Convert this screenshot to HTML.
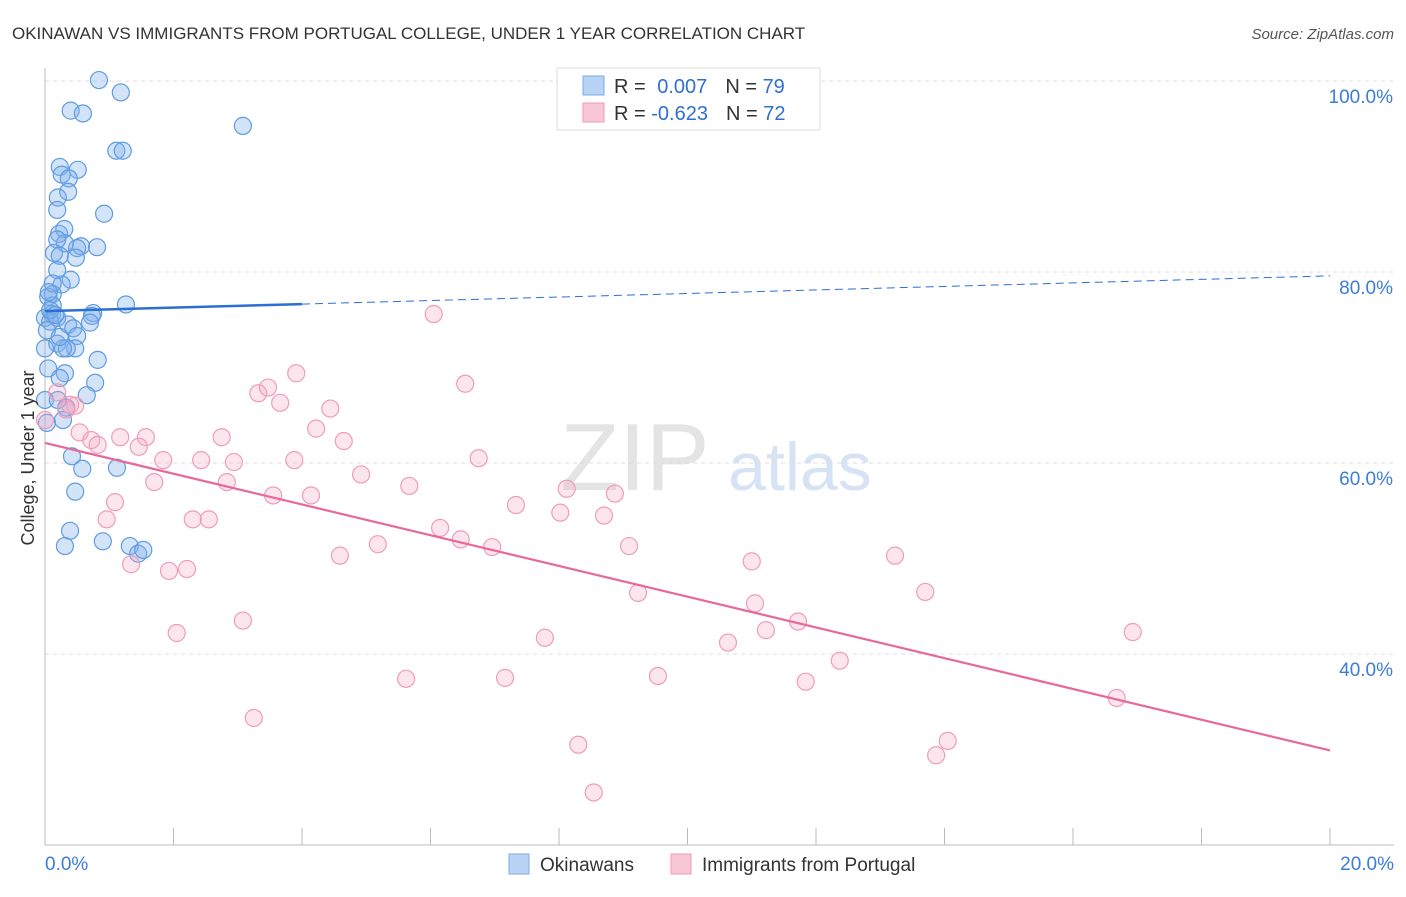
<!DOCTYPE html>
<html><head><meta charset="utf-8"><style>
body{margin:0;background:#fff;font-family:"Liberation Sans",sans-serif;}
svg text{font-family:"Liberation Sans",sans-serif;}
</style></head><body>
<svg id="chart" width="1406" height="892">
<text x="12" y="39" font-size="17" fill="#333">OKINAWAN VS IMMIGRANTS FROM PORTUGAL COLLEGE, UNDER 1 YEAR CORRELATION CHART</text>
<text x="1394" y="39" font-size="15" fill="#555" font-style="italic" text-anchor="end">Source: ZipAtlas.com</text>
<text x="635" y="490" font-size="96" fill="#e4e4e4" font-family="Liberation Serif" text-anchor="middle">ZIP</text>
<text x="800" y="490" font-size="68" fill="#d5e3f5" text-anchor="middle">atlas</text>
<g id="grid"></g>
<g id="axes"></g>
<g id="pts"></g>
<g id="trend"></g>
<text x="34" y="458" font-size="18" fill="#333" text-anchor="middle" transform="rotate(-90 34 458)">College, Under 1 year</text>
<g>
<rect x="557" y="68" width="263" height="62" fill="#fff" stroke="#ddd"/>
<rect x="583" y="76" width="21" height="19" fill="#b9d3f5" stroke="#7aaae8"/>
<rect x="583" y="103" width="21" height="19" fill="#f9c6d6" stroke="#f09ab5"/>
<text x="614" y="93" font-size="20" fill="#333">R = <tspan fill="#2f6fd0" dx="6">0.007</tspan><tspan dx="18" fill="#333">N = </tspan><tspan fill="#2f6fd0">79</tspan></text>
<text x="614" y="120" font-size="20" fill="#333">R = <tspan fill="#2f6fd0">-0.623</tspan><tspan dx="18" fill="#333">N = </tspan><tspan fill="#2f6fd0">72</tspan></text>
</g>
<g>
<rect x="509" y="854" width="20" height="20" fill="#b9d3f5" stroke="#7aaae8"/>
<text x="540" y="871" font-size="19" fill="#333">Okinawans</text>
<rect x="671" y="854" width="20" height="20" fill="#f9c6d6" stroke="#f09ab5"/>
<text x="702" y="871" font-size="19" fill="#333">Immigrants from Portugal</text>
</g>
</svg>
<script>
const xTicks=[0,20];
const yTicks=[100,80,60,40];
const blueX=[0.84,1.18,0.40,0.59,3.08,1.11,1.21,0.23,0.51,0.26,0.37,0.36,0.20,0.92,0.19,0.22,0.30,0.31,0.19,0.56,0.81,0.50,0.14,0.23,0.48,0.40,0.19,0.26,0.12,0.05,0.12,1.26,0.75,0.11,0.19,0,0.73,0.70,0.36,0.44,0.08,0.50,0.19,0,0.47,0.34,0.28,0.82,0.31,0.05,0.23,0.78,0.65,0,0.33,0.28,0.03,0.42,0.58,1.12,0.47,0.39,0.90,0.31,1.32,1.45,1.53,0.08,0.16,0.03,0.23,0.20,0.12,0.06];
const blueY=[100.1,98.8,96.9,96.6,95.3,92.7,92.7,91.0,90.7,90.2,89.8,88.4,87.8,86.1,86.5,84.0,84.5,83.0,83.4,82.7,82.6,82.5,82.0,81.7,81.5,79.2,80.2,78.7,77.7,77.4,76.5,76.6,75.7,75.6,75.2,75.2,75.4,74.7,74.5,74.1,74.8,73.3,72.5,72.0,72.0,72.0,72.0,70.8,69.4,69.9,68.9,68.4,67.1,66.6,65.8,64.5,64.2,60.7,59.4,59.5,57.0,52.9,51.8,51.3,51.3,50.5,50.9,76.0,75.5,73.9,73.2,66.6,78.8,77.9];
const pinkX=[0.19,0.47,0.39,0.33,0,0.54,0.72,0.82,1.17,1.57,1.46,1.84,1.70,2.43,2.94,2.75,2.83,2.30,2.55,1.09,0.96,1.34,1.93,2.21,2.05,3.08,3.25,3.32,3.47,3.66,3.91,4.22,4.44,4.65,3.88,3.55,4.14,4.92,4.59,5.18,5.67,5.62,6.05,6.54,6.75,6.15,6.47,6.96,7.33,7.78,7.16,8.02,8.12,8.30,8.54,8.70,8.87,9.09,9.23,9.54,10.63,11.00,11.05,11.22,11.72,11.84,12.37,13.23,13.70,13.87,14.05,16.93,16.68];
const pinkY=[67.4,66.0,66.1,65.6,64.5,63.2,62.4,61.9,62.7,62.7,61.7,60.3,58.0,60.3,60.1,62.7,58.0,54.1,54.1,55.9,54.1,49.4,48.7,48.9,42.2,43.5,33.3,67.3,67.9,66.3,69.4,63.6,65.7,62.3,60.3,56.6,56.6,58.8,50.3,51.5,57.6,37.4,75.6,68.3,60.5,53.2,52.0,51.2,55.6,41.7,37.5,54.8,57.3,30.5,25.5,54.5,56.8,51.3,46.4,37.7,41.2,49.7,45.3,42.5,43.4,37.1,39.3,50.3,46.5,29.4,30.9,42.3,35.4];
const blueTrend=[75.9,79.6];
const pinkTrend=[62.1,29.9];
const NS='http://www.w3.org/2000/svg';
const X=v=>45+v/20*1285, Y=v=>81+(100-v)*9.55;
function mk(tag,attrs,parent){const e=document.createElementNS(NS,tag);for(const k in attrs)e.setAttribute(k,attrs[k]);document.getElementById(parent).appendChild(e);return e;}
yTicks.forEach(t=>{
  const l=mk('line',{x1:45,x2:1394,y1:Y(t),y2:Y(t),stroke:'#ddd','stroke-dasharray':'4,4'},'grid');
  
  
  const tx=mk('text',{x:1393,y:Y(t)+22,'font-size':19,fill:'#3b7dd8','text-anchor':'end'},'grid');
  tx.textContent=t.toFixed(1)+'%';
  
  
});
const ax=mk('line',{x1:45,x2:45,y1:68,y2:845,stroke:'#bbb'},'axes');


const bx=mk('line',{x1:45,x2:1394,y1:845,y2:845,stroke:'#bbb'},'axes');


for(let i=1;i<=10;i++){const tk=mk('line',{x1:X(i*2),x2:X(i*2),y1:828,y2:845,stroke:'#bbb'},'axes');

}
xTicks.forEach((t,i)=>{const tx=mk('text',{x:i==0?45:1394,y:870,'font-size':19,fill:'#3b7dd8','text-anchor':i==0?'start':'end'},'axes');
tx.textContent=t.toFixed(1)+'%';

});
blueX.forEach((v,i)=>{const c=mk('circle',{cx:X(v),cy:Y(blueY[i]),r:8.5,fill:'rgba(130,175,235,0.35)',stroke:'#5e9ce2','stroke-width':1.2},'pts');

});
pinkX.forEach((v,i)=>{const c=mk('circle',{cx:X(v),cy:Y(pinkY[i]),r:8.5,fill:'rgba(245,170,195,0.3)',stroke:'#ee9db8','stroke-width':1.2},'pts');

});
const bAt=x=>blueTrend[0]+(blueTrend[1]-blueTrend[0])*x/20;
const l1=mk('line',{x1:X(0),y1:Y(bAt(0)),x2:X(4),y2:Y(bAt(4)),stroke:'#2a6fd4','stroke-width':2.5},'trend');


const l2=mk('line',{x1:X(4),y1:Y(bAt(4)),x2:X(20),y2:Y(bAt(20)),stroke:'#2a6fd4','stroke-width':1,'stroke-dasharray':'8,5'},'trend');


const l3=mk('line',{x1:X(0),y1:Y(pinkTrend[0]),x2:X(20),y2:Y(pinkTrend[1]),stroke:'#e8689a','stroke-width':2.2},'trend');


</script>
</body></html>
